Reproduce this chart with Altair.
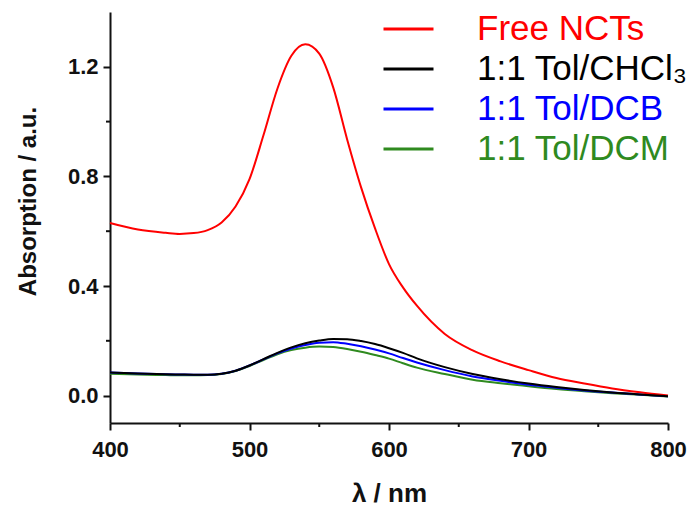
import altair as alt
import pandas as pd

# ---- data ----
wavelength = [400, 420, 440, 450, 460, 470, 480, 490, 500, 510, 520, 530, 540, 550,
              560, 570, 580, 590, 600, 610, 620, 640, 660, 680, 700, 720, 740, 760, 780, 800]
free_ncts = [0.630, 0.606, 0.594, 0.590, 0.593, 0.604, 0.632, 0.690, 0.790, 0.950, 1.120, 1.240,
             1.282, 1.248, 1.125, 0.935, 0.760, 0.610, 0.480, 0.395, 0.328, 0.225, 0.165, 0.125,
             0.093, 0.064, 0.044, 0.026, 0.012, 0.000]
tol_chcl3 = [0.084, 0.081, 0.078, 0.077, 0.076, 0.076, 0.080, 0.091, 0.110, 0.133, 0.156, 0.176,
             0.191, 0.201, 0.207, 0.206, 0.199, 0.188, 0.173, 0.156, 0.136, 0.104, 0.079, 0.060,
             0.044, 0.031, 0.020, 0.011, 0.004, -0.002]
tol_dcb = [0.084, 0.081, 0.078, 0.077, 0.076, 0.076, 0.080, 0.091, 0.110, 0.132, 0.154, 0.172,
           0.185, 0.193, 0.195, 0.189, 0.180, 0.168, 0.154, 0.137, 0.121, 0.093, 0.070, 0.054,
           0.040, 0.029, 0.019, 0.011, 0.004, -0.002]
tol_dcm = [0.080, 0.077, 0.075, 0.074, 0.074, 0.075, 0.079, 0.090, 0.108, 0.130, 0.151, 0.166,
           0.175, 0.179, 0.177, 0.170, 0.160, 0.148, 0.135, 0.118, 0.102, 0.079, 0.058, 0.045,
           0.034, 0.024, 0.016, 0.009, 0.003, -0.003]

series_names = ["Free NCTs", "1:1 Tol/CHCl\u2083", "1:1 Tol/DCB", "1:1 Tol/DCM"]
series_colors = ["#ff0000", "#000000", "#0000ff", "#2f8a1f"]
series_values = [free_ncts, tol_chcl3, tol_dcb, tol_dcm]
draw_order = [3, 2, 0, 1]

x_major = [400, 500, 600, 700, 800]
x_minor = [450, 550, 650, 750]
y_major = [0.0, 0.4, 0.8, 1.2]
y_minor = [0.2, 0.6, 1.0]

rows = []
for name, vals in zip(series_names, series_values):
    for w, v in zip(wavelength, vals):
        rows.append({"wl": w, "absorb": v, "series": name})
df = pd.DataFrame(rows)

label_color_expr = " : ".join(
    f"datum.value == '{n}' ? '{c}'" for n, c in zip(series_names, series_colors)
) + " : 'black'"

FONT = "Liberation Sans"
INK = "#111111"
PLOT_W, PLOT_H = 558, 411

x_scale = alt.Scale(domain=[400, 800], nice=False, zero=False)
y_scale = alt.Scale(domain=[-0.1, 1.4], nice=False, zero=False)

x_axis = alt.Axis(
    orient="bottom",
    values=x_major,
    format="d",
    tickSize=7,
    title="\u03bb / nm",
    grid=False,
    domainColor=INK, domainWidth=2,
    tickColor=INK, tickWidth=2,
    labelFont=FONT, labelFontSize=22, labelFontWeight="bold", labelColor=INK,
    labelPadding=9, labelFlush=False, labelOverlap=False,
    titleFont=FONT, titleFontSize=26, titleFontWeight="bold", titleColor=INK,
    titlePadding=20,
)
y_axis = alt.Axis(
    orient="left",
    values=y_major,
    format=".1f",
    tickSize=7,
    title="Absorption / a.u.",
    grid=False,
    domainColor=INK, domainWidth=2,
    tickColor=INK, tickWidth=2,
    labelFont=FONT, labelFontSize=22, labelFontWeight="bold", labelColor=INK,
    labelPadding=5, labelFlush=False, labelOverlap=False,
    titleFont=FONT, titleFontSize=24, titleFontWeight="bold", titleColor=INK,
    titlePadding=27, titleY=189,
)

legend = alt.Legend(
    title=None,
    orient="none",
    legendX=272,
    legendY=-3,
    symbolType="stroke",
    symbolSize=2500,
    symbolStrokeWidth=3,
    labelFont=FONT,
    labelFontSize=35,
    labelColor=alt.ExprRef(label_color_expr),
    labelOffset=42,
    clipHeight=40,
    rowPadding=0,
    padding=0,
    labelLimit=400,
)

base = alt.Chart(df).mark_line(strokeWidth=2, interpolate="monotone").encode(
    x=alt.X("wl:Q", scale=x_scale, axis=x_axis),
    y=alt.Y("absorb:Q", scale=y_scale, axis=y_axis),
    color=alt.Color("series:N", scale=alt.Scale(domain=series_names, range=series_colors),
                    legend=legend),
)

series_layers = [base.transform_filter(alt.datum.series == series_names[i]) for i in draw_order]

# minor ticks, positioned by the shared scales
x_minor_ticks = alt.Chart(pd.DataFrame({"wl": x_minor})).mark_rule(
    color=INK, strokeWidth=2
).encode(
    x=alt.X("wl:Q", scale=x_scale, axis=x_axis),
    y=alt.value(PLOT_H),
    y2=alt.value(PLOT_H + 4),
)
y_minor_ticks = alt.Chart(pd.DataFrame({"absorb": y_minor})).mark_rule(
    color=INK, strokeWidth=2
).encode(
    y=alt.Y("absorb:Q", scale=y_scale, axis=y_axis),
    x=alt.value(-4),
    x2=alt.value(0),
)

chart = alt.layer(x_minor_ticks, y_minor_ticks, *series_layers).properties(
    width=PLOT_W,
    height=PLOT_H,
    autosize=alt.AutoSizeParams(type="none"),
    padding={"left": 110, "top": 12, "right": 24, "bottom": 83},
    background="white",
).configure_view(stroke=None)

chart.save("out.html", embed_options={"renderer": "svg", "actions": False})
